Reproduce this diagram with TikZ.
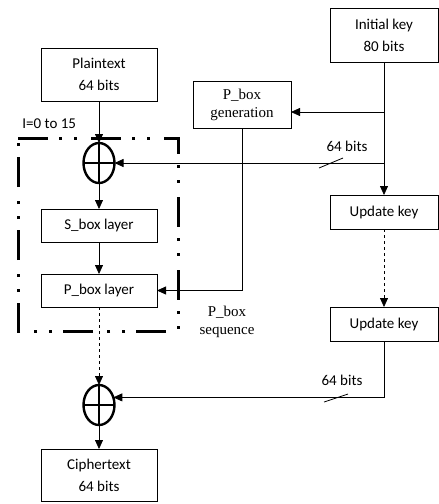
\documentclass[tikz,border=0pt]{standalone}
\usepackage{fontspec}
\setmainfont{Carlito}
\newfontfamily\pboxfont{Liberation Serif}
\usetikzlibrary{arrows.meta, positioning, shapes.geometric}

\begin{document}
\begin{tikzpicture}[x=1pt,y=-1pt,->,>={Triangle[length=9pt,width=8pt]},line width=0.8pt,
    font=\fontsize{15}{22}\selectfont,
    block/.style={draw,minimum width=116pt,minimum height=33pt,align=center,inner sep=2pt,outer sep=0pt},
    keyblock/.style={block,minimum width=108pt,minimum height=34pt},
    xor/.style={ellipse,draw,line width=2.4pt,minimum width=31pt,minimum height=40pt,inner sep=0pt,outer sep=0pt},
    rounds/.style={-,line width=3pt,dash pattern=on 30pt off 11pt on 3pt off 12pt on 3pt off 14pt},
    slash/.style={-},
    serif text/.style={font=\pboxfont\fontsize{15}{18}\selectfont,align=center}]

        \useasboundingbox (0,0) rectangle (439,504);

        % left column
        \node[block,minimum height=53pt] (plain) at (99,74.5) {Plaintext\\64 bits};
        \node[xor,below=42pt of plain]  (xor1)   {};
        \node[block,below=26pt of xor1] (sbox)   {S\_box layer};
        \node[block,below=32pt of sbox] (pbox)   {P\_box layer};
        \node[xor,below=78pt of pbox]   (xor2)   {};
        \node[block,minimum height=52pt,below=24pt of xor2] (cipher) {Ciphertext\\64 bits};

        % key column
        \node[keyblock,minimum height=54pt] (ikey) at (384,35) {Initial key\\80 bits};
        \node[keyblock,below=133pt of ikey] (ukey1) {Update key};
        \node[keyblock,below=78pt of ukey1] (ukey2) {Update key};
        \node[block,serif text,minimum width=98pt,minimum height=47pt] (pgen) at (242,104.5) {P\_box\\generation};

        % labels
        \node[anchor=west,inner sep=0pt] (iter) at (22,124) {I=0 to 15};
        \node[serif text] (pseq) at (227,322) {P\_box\\sequence};
        \node (bits1) at (347,146) {64 bits};
        \node (bits2) at (342,380) {64 bits};

        \coordinate (k1) at (384,112);
        \coordinate (k2) at (ikey.south |- xor1.east);

        % round frame
        \draw[rounds] (18,138) -- (178,138) -- (178,331) -- (18,331) -- cycle;

        % cross in the xor nodes
        \draw[-,line width=2.4pt] (xor1.north) -- (xor1.south) (xor1.west) -- (xor1.east);
        \draw[-,line width=2.4pt] (xor2.north) -- (xor2.south) (xor2.west) -- (xor2.east);

        \path
            (plain) edge                  (xor1)
            (xor1)  edge                  (sbox)
            (sbox)  edge                  (pbox)
            (pbox)  edge [dashed]         (xor2)
            (xor2)  edge                  (cipher)
            (ikey)  edge                  (ukey1)
            (ukey1) edge [dashed]         (ukey2);

        \draw (k1) -- (k1 -| pgen.east);
        \draw (k2) -- (xor1.east);
        \draw (pgen.south) |- (pbox.east);
        \draw (ukey2.south) |- (xor2.28);

        % 64 bit marks
        \draw[slash] (319,168) -- (343,158);
        \draw[slash] (324,402) -- (348,394);

\end{tikzpicture}
\end{document}
